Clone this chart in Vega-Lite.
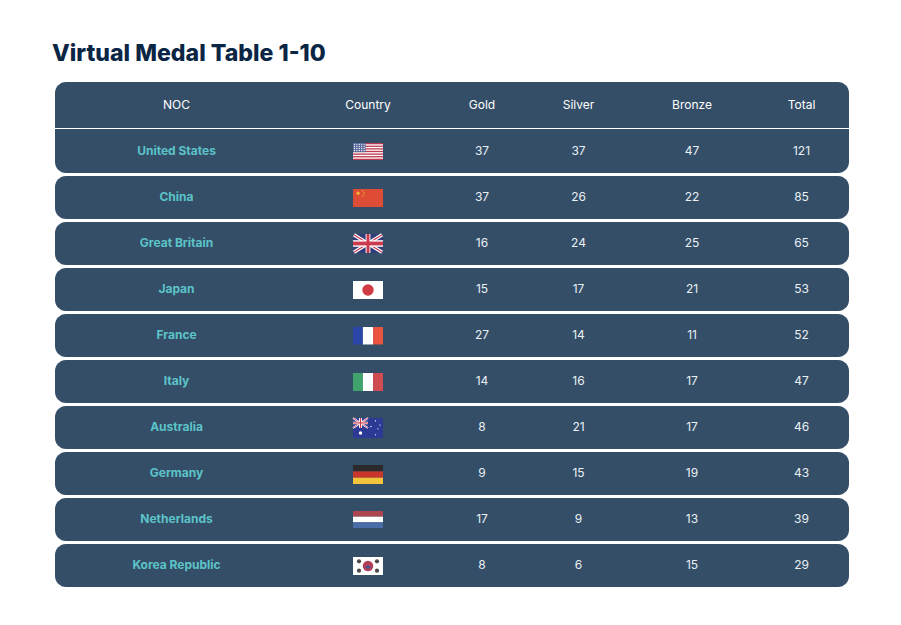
{
"$schema":"https://vega.github.io/schema/vega-lite/v6.json",
"width":901,"height":625,"padding":0,"autosize":{"type":"none"},"background":"#ffffff",
"title":{"text":"Virtual Medal Table 1-10","anchor":"start","frame":"group","dx":52,"offset":-58,"dy":26,"baseline":"alphabetic","font":"Inter","fontSize":23.1,"fontWeight":800,"color":"#0B2545"},
"config":{"view":{"stroke":null},"axis":{"disable":true}},
"datasets":{
"medals":[
{"rank":1,"noc":"United States","gold":37,"silver":37,"bronze":47,"total":121},
{"rank":2,"noc":"China","gold":37,"silver":26,"bronze":22,"total":85},
{"rank":3,"noc":"Great Britain","gold":16,"silver":24,"bronze":25,"total":65},
{"rank":4,"noc":"Japan","gold":15,"silver":17,"bronze":21,"total":53},
{"rank":5,"noc":"France","gold":27,"silver":14,"bronze":11,"total":52},
{"rank":6,"noc":"Italy","gold":14,"silver":16,"bronze":17,"total":47},
{"rank":7,"noc":"Australia","gold":8,"silver":21,"bronze":17,"total":46},
{"rank":8,"noc":"Germany","gold":9,"silver":15,"bronze":19,"total":43},
{"rank":9,"noc":"Netherlands","gold":17,"silver":9,"bronze":13,"total":39},
{"rank":10,"noc":"Korea Republic","gold":8,"silver":6,"bronze":15,"total":29}],
"headers":[{"col":1,"label":"NOC"},{"col":2,"label":"Country"},{"col":3,"label":"Gold"},{"col":4,"label":"Silver"},{"col":5,"label":"Bronze"},{"col":6,"label":"Total"}],
"headBand":[{"top":-0.489,"bottom":0.511}],
"firstBand":[{"top":0.533,"bottom":1.489}],
"bands":[{"top":1.554,"bottom":2.489},{"top":2.554,"bottom":3.489},{"top":3.554,"bottom":4.489},{"top":4.554,"bottom":5.489},{"top":5.554,"bottom":6.489},{"top":6.554,"bottom":7.489},{"top":7.554,"bottom":8.489},{"top":8.554,"bottom":9.489},{"top":9.554,"bottom":10.489}],
"flagRects":[
{"p":"white","u":0,"u2":1,"y":0.837,"y2":1.207},
{"p":"usRed","u":0,"u2":1,"y":0.837,"y2":0.865},{"p":"usRed","u":0,"u2":1,"y":0.894,"y2":0.922},{"p":"usRed","u":0,"u2":1,"y":0.951,"y2":0.979},{"p":"usRed","u":0,"u2":1,"y":1.007,"y2":1.036},{"p":"usRed","u":0,"u2":1,"y":1.064,"y2":1.093},{"p":"usRed","u":0,"u2":1,"y":1.121,"y2":1.15},{"p":"usRed","u":0,"u2":1,"y":1.178,"y2":1.207},
{"p":"usBlue","u":0,"u2":0.42,"y":0.837,"y2":1.036},
{"p":"cnRed","u":0,"u2":1,"y":1.837,"y2":2.228},
{"p":"ukBlue","u":0,"u2":1,"y":2.815,"y2":3.228},
{"p":"white","u":0,"u2":1,"y":3.837,"y2":4.228},
{"p":"frBlue","u":0,"u2":0.33,"y":4.837,"y2":5.217},{"p":"white","u":0.33,"u2":0.67,"y":4.837,"y2":5.217},{"p":"frRed","u":0.67,"u2":1,"y":4.837,"y2":5.217},
{"p":"itGreen","u":0,"u2":0.33,"y":5.837,"y2":6.228},{"p":"white","u":0.33,"u2":0.67,"y":5.837,"y2":6.228},{"p":"itRed","u":0.67,"u2":1,"y":5.837,"y2":6.228},
{"p":"auBlue","u":0,"u2":1,"y":6.815,"y2":7.25},
{"p":"deBlack","u":0,"u2":1,"y":7.837,"y2":7.975},{"p":"deRed","u":0,"u2":1,"y":7.975,"y2":8.113},{"p":"deGold","u":0,"u2":1,"y":8.113,"y2":8.25},
{"p":"nlRed","u":0,"u2":1,"y":8.837,"y2":8.96},{"p":"white","u":0,"u2":1,"y":8.96,"y2":9.083},{"p":"nlBlue","u":0,"u2":1,"y":9.083,"y2":9.207},
{"p":"white","u":0,"u2":1,"y":9.837,"y2":10.228}],
"ukDiag":[{"u":0.03,"u2":0.97,"y":2.83,"y2":3.213},{"u":0.03,"u2":0.97,"y":3.213,"y2":2.83}],
"auDiag":[{"u":0,"u2":0.5,"y":6.815,"y2":7.03},{"u":0,"u2":0.5,"y":7.03,"y2":6.815}],
"crossRects":[
{"p":"white","u":0.42,"u2":0.58,"y":2.815,"y2":3.228},{"p":"white","u":0,"u2":1,"y":2.95,"y2":3.093},
{"p":"ukRed","u":0.45,"u2":0.55,"y":2.815,"y2":3.228},{"p":"ukRed","u":0,"u2":1,"y":2.98,"y2":3.063},
{"p":"white","u":0.2,"u2":0.3,"y":6.815,"y2":7.03},{"p":"white","u":0,"u2":0.5,"y":6.895,"y2":6.95},
{"p":"ukRed","u":0.23,"u2":0.27,"y":6.815,"y2":7.03},{"p":"ukRed","u":0,"u2":0.5,"y":6.91,"y2":6.935}],
"tinyDots":[
{"p":"white","u":0.05,"y":0.865},{"p":"white","u":0.13,"y":0.865},{"p":"white","u":0.21,"y":0.865},{"p":"white","u":0.29,"y":0.865},{"p":"white","u":0.37,"y":0.865},
{"p":"white","u":0.05,"y":0.91},{"p":"white","u":0.13,"y":0.91},{"p":"white","u":0.21,"y":0.91},{"p":"white","u":0.29,"y":0.91},{"p":"white","u":0.37,"y":0.91},
{"p":"white","u":0.05,"y":0.955},{"p":"white","u":0.13,"y":0.955},{"p":"white","u":0.21,"y":0.955},{"p":"white","u":0.29,"y":0.955},{"p":"white","u":0.37,"y":0.955},
{"p":"white","u":0.05,"y":1.0},{"p":"white","u":0.13,"y":1.0},{"p":"white","u":0.21,"y":1.0},{"p":"white","u":0.29,"y":1.0},{"p":"white","u":0.37,"y":1.0},
{"p":"cnGold","u":0.32,"y":1.875},{"p":"cnGold","u":0.37,"y":1.91},{"p":"cnGold","u":0.37,"y":1.955},{"p":"cnGold","u":0.32,"y":1.995},
{"p":"white","u":0.75,"y":6.88},{"p":"white","u":0.6,"y":7.0},{"p":"white","u":0.9,"y":6.97},{"p":"white","u":0.75,"y":7.18},{"p":"white","u":0.83,"y":7.05}],
"midDots":[
{"p":"cnGold","u":0.17,"y":1.93},
{"p":"white","u":0.25,"y":7.14}],
"koTri":[
{"p":"koDark","u":0.2,"y":9.93},{"p":"koDark","u":0.8,"y":9.93},{"p":"koDark","u":0.2,"y":10.135},{"p":"koDark","u":0.8,"y":10.135}],
"bigDots":[{"p":"jpRed","u":0.5,"y":4.032}],
"koDisc":[{"p":"koRed","u":0.5,"y":10.032}],
"koHalf":[{"p":"koBlue","u":0.5,"y":10.032}]
},
"layer":[
{"layer":[
{"data":{"name":"headBand"},"mark":{"type":"rect","fill":"#344E68","cornerRadiusTopLeft":11,"cornerRadiusTopRight":11},
"encoding":{"x":{"datum":0,"type":"quantitative","scale":{"domain":[0,1,2,3,4,5,6,7],"range":[55,176.5,368,482,578.5,692,801.5,849]},"axis":null},"x2":{"datum":7},"y":{"field":"top","type":"quantitative","scale":{"domain":[0,10],"range":[104.5,564.5],"nice":false,"zero":false},"axis":null},"y2":{"field":"bottom"}}},
{"data":{"name":"firstBand"},"mark":{"type":"rect","fill":"#344E68","cornerRadiusBottomLeft":11,"cornerRadiusBottomRight":11},
"encoding":{"x":{"datum":0,"type":"quantitative"},"x2":{"datum":7},"y":{"field":"top","type":"quantitative"},"y2":{"field":"bottom"}}},
{"data":{"name":"bands"},"mark":{"type":"rect","fill":"#344E68","cornerRadius":11},
"encoding":{"x":{"datum":0,"type":"quantitative"},"x2":{"datum":7},"y":{"field":"top","type":"quantitative"},"y2":{"field":"bottom"}}},
{"data":{"name":"headers"},"mark":{"type":"text","font":"Inter","fontSize":12,"fontWeight":400,"color":"#FFFFFF","align":"center","baseline":"middle","dy":0.5},
"encoding":{"x":{"field":"col","type":"quantitative"},"y":{"datum":0,"type":"quantitative"},"text":{"field":"label"}}},
{"data":{"name":"medals"},"mark":{"type":"text","font":"Inter","fontSize":12,"fontWeight":700,"color":"#5CC4C8","align":"center","baseline":"middle","dy":0.5},
"encoding":{"x":{"datum":1,"type":"quantitative"},"y":{"field":"rank","type":"quantitative"},"text":{"field":"noc"}}},
{"data":{"name":"medals"},"mark":{"type":"text","font":"Inter","fontSize":12,"color":"#EAF0F4","align":"center","baseline":"middle","dy":0.5},
"encoding":{"x":{"datum":3,"type":"quantitative"},"y":{"field":"rank","type":"quantitative"},"text":{"field":"gold"}}},
{"data":{"name":"medals"},"mark":{"type":"text","font":"Inter","fontSize":12,"color":"#EAF0F4","align":"center","baseline":"middle","dy":0.5},
"encoding":{"x":{"datum":4,"type":"quantitative"},"y":{"field":"rank","type":"quantitative"},"text":{"field":"silver"}}},
{"data":{"name":"medals"},"mark":{"type":"text","font":"Inter","fontSize":12,"color":"#EAF0F4","align":"center","baseline":"middle","dy":0.5},
"encoding":{"x":{"datum":5,"type":"quantitative"},"y":{"field":"rank","type":"quantitative"},"text":{"field":"bronze"}}},
{"data":{"name":"medals"},"mark":{"type":"text","font":"Inter","fontSize":12,"color":"#EAF0F4","align":"center","baseline":"middle","dy":0.5},
"encoding":{"x":{"datum":6,"type":"quantitative"},"y":{"field":"rank","type":"quantitative"},"text":{"field":"total"}}}
]},
{"layer":[
{"data":{"name":"flagRects"},"mark":{"type":"rect"},
"encoding":{"x":{"field":"u","type":"quantitative","scale":{"domain":[0,1],"range":[353,383],"nice":false,"zero":false},"axis":null},"x2":{"field":"u2"},"y":{"field":"y","type":"quantitative"},"y2":{"field":"y2"},
"color":{"field":"p","type":"nominal","legend":null,"scale":{"domain":["white","usRed","usBlue","cnRed","cnGold","ukBlue","ukRed","jpRed","frBlue","frRed","itGreen","itRed","auBlue","deBlack","deRed","deGold","nlRed","nlBlue","koRed","koBlue","koDark"],"range":["#FFFFFF","#BE3A50","#5A689C","#DE4C36","#F2B134","#2F3C78","#CB3A4E","#CF3B40","#2B45A8","#E8543F","#3FA36B","#CF4C52","#2C3A96","#2A2A2A","#C8362C","#F2C53D","#AE4650","#4A6CA8","#B03E58","#3C5A98","#4A4A4A"]}}}},
{"data":{"name":"ukDiag"},"mark":{"type":"rule","color":"#FFFFFF","strokeWidth":3.6},"encoding":{"x":{"field":"u","type":"quantitative"},"x2":{"field":"u2"},"y":{"field":"y","type":"quantitative"},"y2":{"field":"y2"}}},
{"data":{"name":"ukDiag"},"mark":{"type":"rule","color":"#CB3A4E","strokeWidth":1.2},"encoding":{"x":{"field":"u","type":"quantitative"},"x2":{"field":"u2"},"y":{"field":"y","type":"quantitative"},"y2":{"field":"y2"}}},
{"data":{"name":"auDiag"},"mark":{"type":"rule","color":"#FFFFFF","strokeWidth":1.8},"encoding":{"x":{"field":"u","type":"quantitative"},"x2":{"field":"u2"},"y":{"field":"y","type":"quantitative"},"y2":{"field":"y2"}}},
{"data":{"name":"auDiag"},"mark":{"type":"rule","color":"#CB3A4E","strokeWidth":0.7},"encoding":{"x":{"field":"u","type":"quantitative"},"x2":{"field":"u2"},"y":{"field":"y","type":"quantitative"},"y2":{"field":"y2"}}},
{"data":{"name":"crossRects"},"mark":{"type":"rect"},"encoding":{"x":{"field":"u","type":"quantitative"},"x2":{"field":"u2"},"y":{"field":"y","type":"quantitative"},"y2":{"field":"y2"},"color":{"field":"p","type":"nominal","legend":null}}},
{"data":{"name":"tinyDots"},"mark":{"type":"circle","size":1.6,"opacity":1},"encoding":{"x":{"field":"u","type":"quantitative"},"y":{"field":"y","type":"quantitative"},"color":{"field":"p","type":"nominal","legend":null}}},
{"data":{"name":"midDots"},"mark":{"type":"circle","size":12,"opacity":1},"encoding":{"x":{"field":"u","type":"quantitative"},"y":{"field":"y","type":"quantitative"},"color":{"field":"p","type":"nominal","legend":null}}},
{"data":{"name":"koTri"},"mark":{"type":"circle","size":18,"opacity":1},"encoding":{"x":{"field":"u","type":"quantitative"},"y":{"field":"y","type":"quantitative"},"color":{"field":"p","type":"nominal","legend":null}}},
{"data":{"name":"bigDots"},"mark":{"type":"circle","size":130,"opacity":1},"encoding":{"x":{"field":"u","type":"quantitative"},"y":{"field":"y","type":"quantitative"},"color":{"field":"p","type":"nominal","legend":null}}},
{"data":{"name":"koDisc"},"mark":{"type":"circle","size":110,"opacity":1},"encoding":{"x":{"field":"u","type":"quantitative"},"y":{"field":"y","type":"quantitative"},"color":{"field":"p","type":"nominal","legend":null}}},
{"data":{"name":"koHalf"},"mark":{"type":"point","shape":"M-0.5,0A0.5,0.5 0 0 0 0.5,0Z","size":110,"filled":true,"opacity":1},"encoding":{"x":{"field":"u","type":"quantitative"},"y":{"field":"y","type":"quantitative"},"color":{"field":"p","type":"nominal","legend":null}}}
]}
],
"resolve":{"scale":{"x":"independent"}}
}
